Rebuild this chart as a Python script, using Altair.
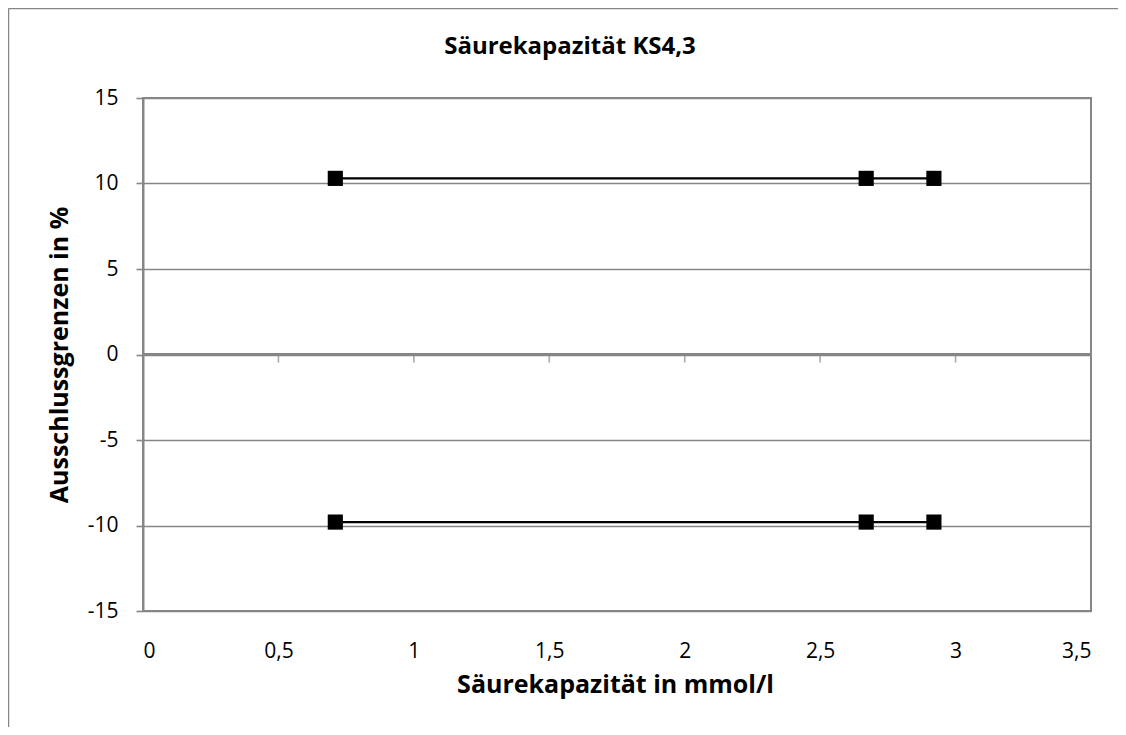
import altair as alt
import pandas as pd

# ---- data ----
x_values = [0.71, 2.67, 2.92]
upper_limit = [10.3, 10.3, 10.3]
lower_limit = [-9.8, -9.8, -9.8]
x_ticks = [0, 0.5, 1, 1.5, 2, 2.5, 3, 3.5]
y_ticks = [-15, -10, -5, 0, 5, 10, 15]
chart_title = "Säurekapazität KS4,3"
x_title = "Säurekapazität in mmol/l"
y_title = "Ausschlussgrenzen in %"

GRAY = "#868686"
FONT = "Open Sans"

df = pd.DataFrame(
    {
        "x": x_values + x_values,
        "y": upper_limit + lower_limit,
        "series": ["upper"] * len(x_values) + ["lower"] * len(x_values),
    }
)
ticks_df = pd.DataFrame({"x": x_ticks, "y": [0] * len(x_ticks)})

W, H = 948, 513

xscale = alt.Scale(domain=[0, 3.5], nice=False, zero=False)
yscale = alt.Scale(domain=[-15, 15], nice=False, zero=False)

x_axis = alt.Axis(
    values=x_ticks,
    format=".1~f",
    labelExpr="replace(datum.label, '.', ',')",
    ticks=False,
    domain=False,
    grid=False,
    labelFont=FONT,
    labelFontSize=21,
    labelColor="#000000",
    labelBaseline="alphabetic",
    labelPadding=46,
    title=x_title,
    titleFont=FONT,
    titleFontSize=25,
    titleFontWeight="bold",
    titleColor="#000000",
    titleX=W / 2 - 2,
    titleY=81,
    titleAlign="center",
    titleBaseline="alphabetic",
)

y_axis = alt.Axis(
    values=y_ticks,
    format="d",
    labelExpr="replace(datum.label, '\u2212', '-')",
    grid=True,
    gridColor=GRAY,
    gridWidth=1.6,
    domain=True,
    domainColor=GRAY,
    domainWidth=2,
    ticks=True,
    tickColor=GRAY,
    tickSize=7,
    tickWidth=1.6,
    labelFont=FONT,
    labelFontSize=21,
    labelColor="#000000",
    labelPadding=18,
    title=y_title,
    titleFont=FONT,
    titleFontSize=25,
    titleFontWeight="bold",
    titleColor="#000000",
    titleAngle=-90,
    titleX=-76,
    titleY=H / 2,
    titleAlign="center",
    titleBaseline="alphabetic",
)

base = alt.Chart(df).encode(
    x=alt.X("x:Q", scale=xscale, axis=x_axis),
    y=alt.Y("y:Q", scale=yscale, axis=y_axis),
)

# zero line (horizontal axis crossing at 0)
zero_line = alt.Chart(ticks_df).mark_rule(color=GRAY, strokeWidth=2).encode(
    y=alt.Y("y:Q", scale=yscale)
)

zero_ticks = alt.Chart(ticks_df).mark_tick(
    orient="vertical", color=GRAY, size=8, thickness=1.6, yOffset=4
).encode(
    x=alt.X("x:Q", scale=xscale),
    y=alt.Y("y:Q", scale=yscale),
)

lines = base.mark_line(color="#000000", strokeWidth=2.4).encode(detail="series:N")
points = base.mark_square(color="#000000", size=230, opacity=1, filled=True)

frame_df = pd.DataFrame({"a": [0]})
frame_top = alt.Chart(frame_df).mark_rule(color=GRAY, strokeWidth=1.5).encode(
    x=alt.value(-134.5), x2=alt.value(1000), y=alt.value(-89.5)
)
frame_left = alt.Chart(frame_df).mark_rule(color=GRAY, strokeWidth=1.5).encode(
    x=alt.value(-134.5), y=alt.value(-89.5), y2=alt.value(700)
)

title_text = alt.Chart(frame_df).mark_text(
    text=chart_title,
    font=FONT,
    fontSize=24,
    fontWeight="bold",
    color="#000000",
    align="center",
    baseline="alphabetic",
).encode(x=alt.value(427), y=alt.value(-44))

chart = (
    alt.layer(zero_line, zero_ticks, lines, points, frame_top, frame_left, title_text)
    .properties(
        width=W,
        height=H,
        autosize=alt.AutoSizeParams(type="none"),
        padding={"left": 135, "top": 90, "right": 27, "bottom": 116},
        background="#ffffff",
    )
    .configure_view(stroke=GRAY, strokeWidth=2)
)

chart.save("out.html", embed_options={"renderer": "svg", "actions": False})
